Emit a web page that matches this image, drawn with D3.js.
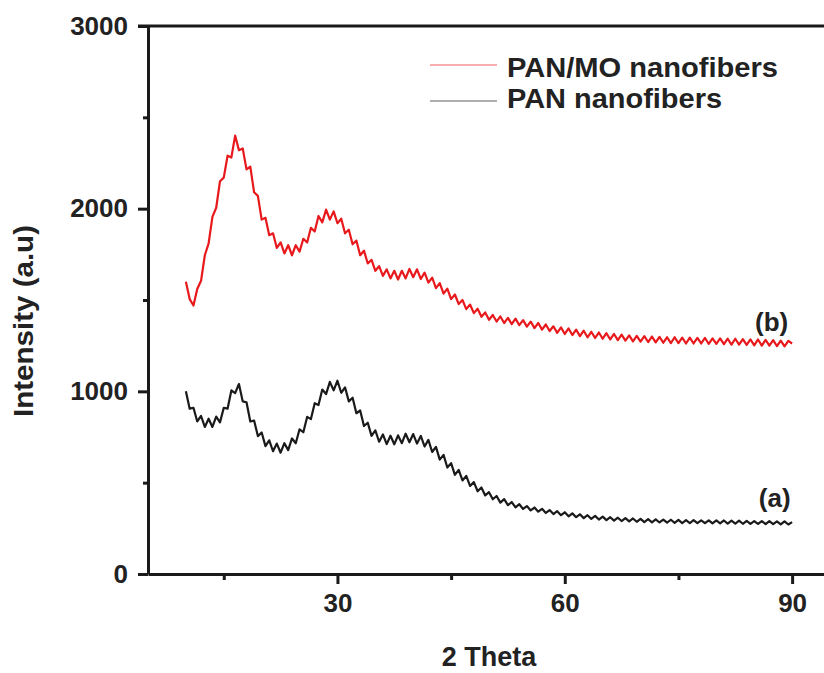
<!DOCTYPE html>
<html lang="en">
<head>
<meta charset="utf-8">
<title>XRD patterns</title>
<script src="https://cdn.jsdelivr.net/npm/d3@7/dist/d3.min.js"></script>
<style>
    body { margin: 0; background: #ffffff; }
    text { font-family: "Liberation Sans", Arial, sans-serif; font-weight: bold; fill: #222; }
</style>
</head>
<body>
<script>

// -- Data -- //

// 2 theta sampling grid, 10 to 90 deg every 0.5 deg
let angles = d3.range(10, 90.25, 0.5);

// (b) PAN/MO nanofibers
let panMo = [
    1600,1505,1470,1560,1605,1745,1810,1955,2005,2150,   // 10
    2170,2290,2280,2400,2320,2330,2215,2230,2090,2070,   // 15
    1940,1950,1855,1865,1785,1815,1755,1800,1745,1800,   // 20
    1765,1835,1815,1895,1875,1960,1925,1995,1940,1985,   // 25
    1920,1945,1865,1885,1805,1825,1745,1770,1700,1720,   // 30
    1660,1685,1632,1668,1618,1660,1612,1660,1618,1670,   // 35
    1625,1668,1615,1650,1595,1622,1565,1592,1535,1562,   // 40
    1505,1530,1478,1500,1450,1475,1428,1452,1408,1432,   // 45
    1392,1418,1382,1410,1374,1402,1368,1398,1362,1390,   // 50
    1354,1382,1346,1374,1338,1366,1330,1356,1320,1350,   // 55
    1314,1344,1308,1338,1302,1332,1296,1326,1292,1322,   // 60
    1288,1318,1284,1314,1280,1310,1278,1306,1274,1304,   // 65
    1272,1302,1270,1300,1268,1298,1266,1296,1264,1296,   // 70
    1264,1294,1262,1294,1262,1292,1262,1292,1260,1290,   // 75
    1260,1290,1258,1288,1256,1288,1256,1286,1254,1284,   // 80
    1252,1284,1250,1282,1250,1280,1248,1278,1246,1276,   // 85
    1262                                                 // 90
];

// (a) PAN nanofibers
let pan = [
    1000,905,910,835,865,805,850,805,862,830,            // 10
    910,905,1005,990,1040,945,940,835,840,755,           // 15
    775,700,732,672,714,664,716,678,742,716,             // 20
    792,776,860,848,935,925,1010,985,1052,1005,          // 25
    1058,992,1022,945,965,880,895,810,828,756,           // 30
    786,724,764,711,757,710,759,716,768,721,             // 35
    766,714,756,698,734,668,696,626,652,583,             // 40
    607,543,570,512,537,482,503,453,474,430,             // 45
    448,409,427,391,410,377,394,365,382,356,             // 50
    372,348,364,341,357,334,350,328,344,322,             // 55
    338,316,332,311,327,306,322,302,318,298,             // 60
    314,295,311,292,308,290,306,288,304,286,             // 65
    302,284,300,283,299,282,298,281,297,280,             // 70
    296,279,295,279,295,278,294,278,294,277,             // 75
    293,277,293,276,292,276,292,275,291,275,             // 80
    290,274,290,273,289,273,288,272,288,271,             // 85
    284                                                  // 90
];

let seriesNames = ["PAN/MO nanofibers", "PAN nanofibers"];
let seriesColors = ["#e8191c", "#1a1a1a"];
let seriesTags = ["(b)", "(a)"];

let xMajorTicks = [30, 60, 90];
let xMinorTicks = [15, 45, 75];
let yMajorTicks = [0, 1000, 2000, 3000];
let yMinorTicks = [500, 1500, 2500];

// -- Setting -- //

let canvasWidth = 824;
let canvasHeight = 673;

let plotLeft = 148;
let plotRight = 830;
let plotTop = 26;
let plotBottom = 574;

const canvas = d3.select("body")
    .append("svg")
    .attr("width", canvasWidth)
    .attr("height", canvasHeight);

canvas.append("rect")
    .attr("width", canvasWidth)
    .attr("height", canvasHeight)
    .attr("fill", "#ffffff");

let x = d3.scaleLinear().domain([5, 95]).range([plotLeft, plotRight]);
let y = d3.scaleLinear().domain([0, 3000]).range([plotBottom, plotTop]);

// -- Curves -- //

let line = d3.line()
    .x(function(d) { return x(d[0]); })
    .y(function(d) { return y(d[1]); });

let curves = [panMo, pan];

canvas.append("g")
    .selectAll("path")
    .data(curves)
    .join("path")
        .attr("fill", "none")
        .attr("stroke", function(d, i) { return seriesColors[i]; })
        .attr("stroke-width", 2.2)
        .attr("stroke-linejoin", "round")
        .attr("d", function(d) { return line(angles.map(function(a, k) { return [a, d[k]]; })); });

// -- Axes -- //

let xAxis = canvas.append("g").attr("transform", `translate(0,${plotBottom})`);
xAxis.call(d3.axisBottom(x).tickValues(xMajorTicks).tickSize(10).tickSizeOuter(0).tickPadding(6));
xAxis.append("g").call(d3.axisBottom(x).tickValues(xMinorTicks).tickSize(6).tickFormat(""));

let yAxis = canvas.append("g").attr("transform", `translate(${plotLeft},0)`);
yAxis.call(d3.axisLeft(y).tickValues(yMajorTicks).tickFormat(d3.format("d")).tickSize(10).tickSizeOuter(0).tickPadding(10));
yAxis.append("g").call(d3.axisLeft(y).tickValues(yMinorTicks).tickSize(5).tickFormat(""));

xAxis.selectAll("g g .domain").remove();
yAxis.selectAll("g g .domain").remove();
canvas.selectAll(".domain").attr("stroke", "#1a1a1a").attr("stroke-width", 3);
canvas.selectAll(".tick line").attr("stroke", "#1a1a1a").attr("stroke-width", 3);
canvas.selectAll(".tick text").attr("font-size", 26).attr("fill", "#222");
xAxis.selectAll(".tick text").attr("dy", "0.85em");

// top frame
canvas.append("line")
    .attr("x1", plotLeft - 10)
    .attr("x2", plotRight)
    .attr("y1", y(3000))
    .attr("y2", y(3000))
    .attr("stroke", "#1a1a1a")
    .attr("stroke-width", 3);

// axis titles
canvas.append("text")
    .attr("x", (plotLeft + plotRight) / 2)
    .attr("y", 666)
    .attr("text-anchor", "middle")
    .attr("font-size", 27)
    .text("2 Theta");

canvas.append("text")
    .attr("transform", `translate(33,${321}) rotate(-90)`)
    .attr("text-anchor", "middle")
    .attr("font-size", 27)
    .attr("textLength", 192)
    .attr("lengthAdjust", "spacingAndGlyphs")
    .text("Intensity (a.u)");

// -- Legend -- //

let legendLineY = [65, 101];
let legendTextY = [77, 108];
let legendTextLength = [271, 215];

let legend = canvas.append("g");
seriesNames.forEach(function(name, i) {
    legend.append("line")
        .attr("x1", 430)
        .attr("x2", 497)
        .attr("y1", legendLineY[i])
        .attr("y2", legendLineY[i])
        .attr("stroke", seriesColors[i])
        .attr("stroke-opacity", 0.7)
        .attr("stroke-width", 1);
    legend.append("text")
        .attr("x", 507)
        .attr("y", legendTextY[i])
        .attr("font-size", 27)
        .attr("textLength", legendTextLength[i])
        .attr("lengthAdjust", "spacingAndGlyphs")
        .text(name);
});

// curve tags
let tagAngle = [87.3, 87.7];
let tagValue = [1330, 365];
seriesTags.forEach(function(tag, i) {
    canvas.append("text")
        .attr("x", x(tagAngle[i]))
        .attr("y", y(tagValue[i]))
        .attr("text-anchor", "middle")
        .attr("font-size", 26)
        .text(tag);
});

</script>
</body>
</html>
